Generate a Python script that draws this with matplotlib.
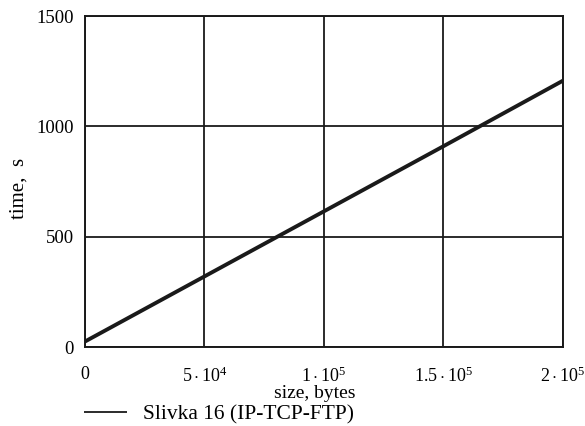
import matplotlib
matplotlib.use('Agg')
import matplotlib.pyplot as plt

# data
size_bytes = [0, 50000, 100000, 150000, 200000]
time_s = [25, 320, 615, 910, 1207]

x_ticks = [0, 50000, 100000, 150000, 200000]
x_tick_labels = ['0', r'$5\cdot10^4$', r'$1\cdot10^5$', r'$1.5\cdot10^5$', r'$2\cdot10^5$']
y_ticks = [0, 500, 1000, 1500]
y_tick_labels = ['0', '500', '1000', '1500']

plt.rcParams['font.family'] = ['Liberation Serif', 'DejaVu Serif']
plt.rcParams['mathtext.fontset'] = 'custom'
plt.rcParams['mathtext.rm'] = 'Liberation Serif'
plt.rcParams['mathtext.it'] = 'Liberation Serif'

fig = plt.figure(figsize=(5.85, 4.26), dpi=100)
ax = fig.add_axes([0.1453, 0.1854, 0.817, 0.777])

ax.plot(size_bytes, time_s, color='#1a1a1a', lw=2.8, solid_capstyle='butt',
        label='Slivka 16 (IP-TCP-FTP)')

ax.set_xlim(0, 200000)
ax.set_ylim(0, 1500)
ax.set_xticks(x_ticks)
ax.set_xticklabels(x_tick_labels)
ax.set_yticks(y_ticks)
ax.set_yticklabels(y_tick_labels)
ax.tick_params(length=0, pad=8, labelsize=13.5)
ax.tick_params(axis='x', pad=14, labelsize=13)
ax.grid(True, color='#1a1a1a', lw=1.3)
for s in ax.spines.values():
    s.set_linewidth(1.4)
    s.set_color('#1a1a1a')

ax.set_xlabel('size, bytes', fontsize=14)
ax.xaxis.set_label_coords(0.48, -0.116)
ax.set_ylabel('time,  s', fontsize=15)
ax.yaxis.set_label_coords(-0.119, 0.48)

leg = ax.legend(loc='upper left', bbox_to_anchor=(-0.002, -0.174), frameon=False,
                handlelength=2.0, handletextpad=0.75, fontsize=15.5,
                borderpad=0, borderaxespad=0)
for h in leg.get_lines():
    h.set_linewidth(1.3)

fig.savefig('out.png', dpi=100)
